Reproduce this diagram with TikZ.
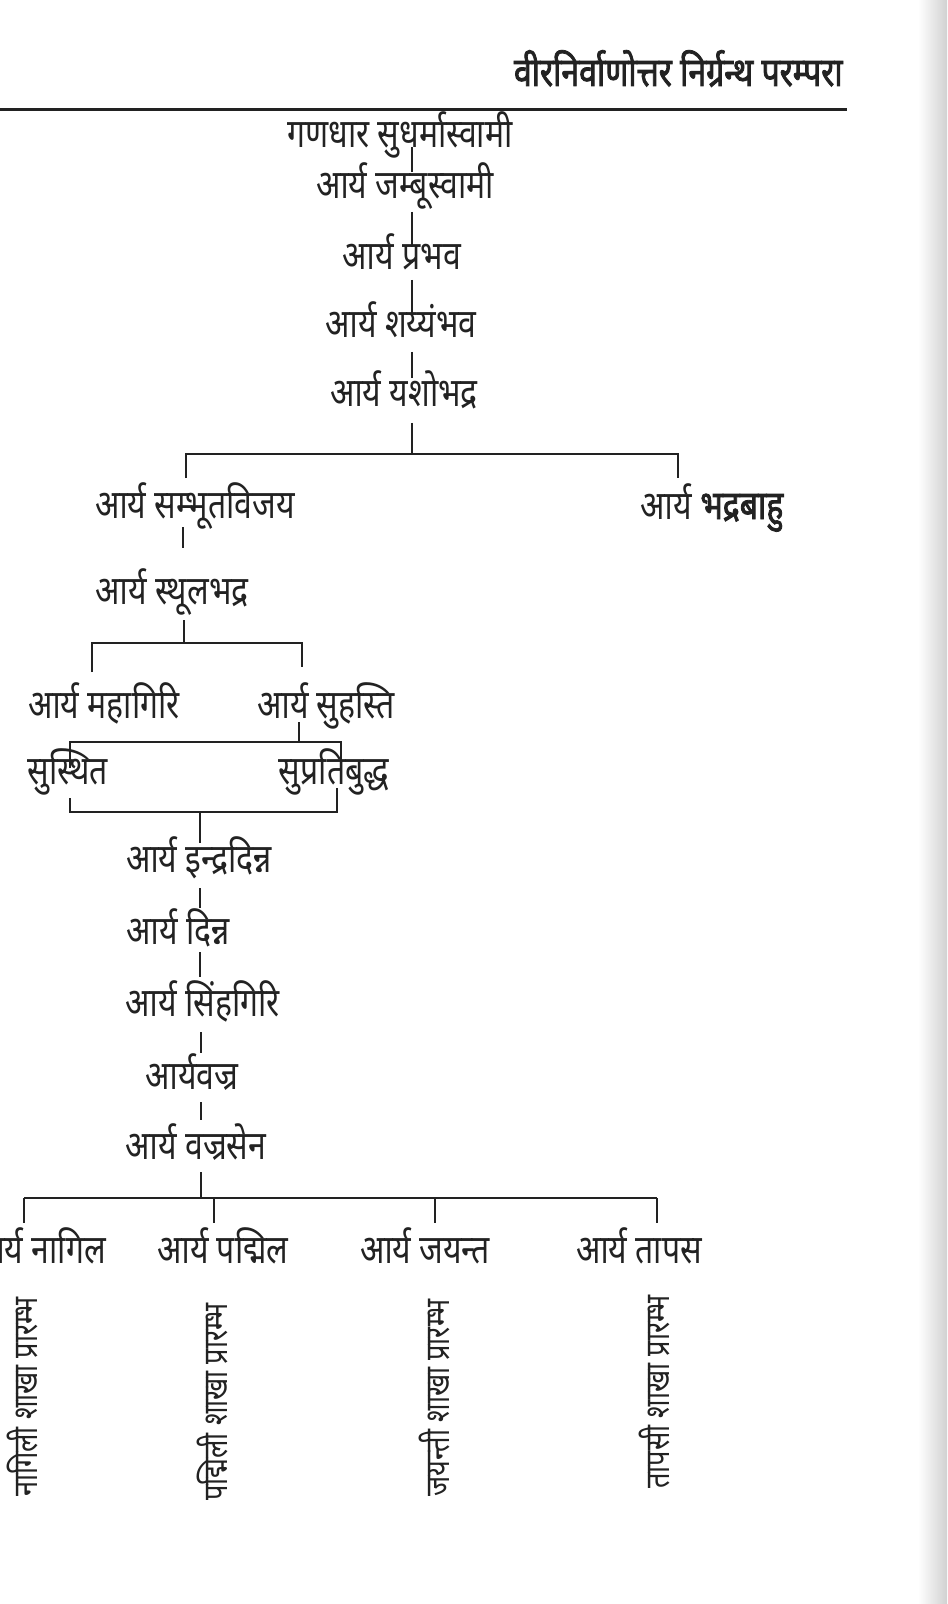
\documentclass[tikz,border=0pt]{standalone}
\usepackage{fontspec}
\newfontfamily\dev[Script=Devanagari,FakeStretch=0.8]{Noto Sans}
\newfontfamily\devb[Script=Devanagari,FakeStretch=0.8,FakeBold=2]{Noto Sans}
\definecolor{ink}{HTML}{222222}
\begin{document}
\begin{tikzpicture}[x=0.5pt,y=-0.5pt,
  nm/.style={font=\dev\fontsize{20}{22}\selectfont, inner sep=0pt, anchor=base, text=ink},
  hd/.style={font=\devb\fontsize{20}{22}\selectfont, inner sep=0pt, anchor=base east, text=ink},
  brn/.style={font=\dev\fontsize{17}{19}\selectfont, inner sep=0pt, rotate=90, text=ink},
  ln/.style={draw=ink, line width=1.1pt},
  rule/.style={draw=ink, line width=1.5pt}]
\useasboundingbox (0,0) rectangle (947,1604);
\fill[white] (0,0) rectangle (947,1604);
\shade[left color=white, right color=black!18] (918,0) rectangle (947,1604);

% header
\node[hd] (head) at (843,86) {वीरनिर्वाणोत्तर निर्ग्रन्थ परम्परा};
\coordinate (rl) at (0,110);
\coordinate (rr) at (847,110);
\draw[rule] (rl) -- (rr);

% names
\node[nm] (gan) at (400,148) {गणधार सुधर्मास्वामी};
\node[nm] (jam) at (405,199) {आर्य जम्बूस्वामी};
\node[nm] (pra) at (402,270) {आर्य प्रभव};
\node[nm] (sha) at (401,338) {आर्य शय्यंभव};
\node[nm] (yas) at (404,407) {आर्य यशोभद्र};
\node[nm] (sam) at (195,518) {आर्य सम्भूतविजय};
\node[nm] (bha) at (712,519) {आर्य {\devb भद्रबाहु}};
\node[nm] (sth) at (172,604) {आर्य स्थूलभद्र};
\node[nm] (mah) at (104,718) {आर्य महागिरि};
\node[nm] (suh) at (326,718) {आर्य सुहस्ति};
\node[nm] (sus) at (68,784) {सुस्थित};
\node[nm] (sup) at (334,784) {सुप्रतिबुद्ध};
\node[nm] (ind) at (199,872) {आर्य इन्द्रदिन्न};
\node[nm] (din) at (178,944) {आर्य दिन्न};
\node[nm] (sin) at (203,1016) {आर्य सिंहगिरि};
\node[nm] (vaj) at (192,1089) {आर्यवज्र};
\node[nm] (vse) at (196,1159) {आर्य वज्रसेन};
\node[nm] (nag) at (39,1263) {आर्य नागिल};
\node[nm] (pad) at (223,1263) {आर्य पद्मिल};
\node[nm] (jay) at (425,1263) {आर्य जयन्त};
\node[nm] (tap) at (639,1263) {आर्य तापस};

% branches
\node[brn] (bnag) at (23,1397) {नागिली शाखा प्रारम्भ};
\node[brn] (bpad) at (213,1402) {पद्मिली शाखा प्रारम्भ};
\node[brn] (bjay) at (434,1398) {जयन्ती शाखा प्रारम्भ};
\node[brn] (btap) at (654,1392) {तापसी शाखा प्रारम्भ};

% connector points
\coordinate (a1) at (412,147);  \coordinate (a2) at (412,172);
\coordinate (b1) at (412,212);  \coordinate (b2) at (412,247);
\coordinate (c1) at (412,280);  \coordinate (c2) at (412,313);
\coordinate (d1) at (412,352);  \coordinate (d2) at (412,378);
\coordinate (e1) at (412,423);  \coordinate (j1) at (412,454);
\coordinate (j1l) at (186,454); \coordinate (j1r) at (678,454);
\coordinate (samt) at (186,478); \coordinate (bhat) at (678,478);
\coordinate (f1) at (183,527);  \coordinate (f2) at (183,548);
\coordinate (g1) at (184,620);  \coordinate (j2) at (184,643);
\coordinate (j2l) at (92,643);  \coordinate (j2r) at (302,643);
\coordinate (maht) at (92,672); \coordinate (suht) at (302,667);
\coordinate (h1) at (299,722);  \coordinate (j3) at (299,742);
\coordinate (j3l) at (70,742);  \coordinate (j3r) at (341,742);
\coordinate (sust) at (70,768); \coordinate (supt) at (341,777);
\coordinate (susb) at (70,798); \coordinate (supb) at (337,788);
\coordinate (j4l) at (70,812);  \coordinate (j4r) at (337,812);
\coordinate (j4) at (200,812);  \coordinate (indt) at (200,843);
\coordinate (k1) at (200,888);  \coordinate (k2) at (200,908);
\coordinate (l1) at (200,952);  \coordinate (l2) at (200,977);
\coordinate (m1) at (201,1032); \coordinate (m2) at (201,1053);
\coordinate (n1) at (201,1102); \coordinate (n2) at (201,1120);
\coordinate (o1) at (201,1172); \coordinate (j5) at (201,1198);
\coordinate (j5a) at (24,1198); \coordinate (j5b) at (214,1198);
\coordinate (j5c) at (435,1198); \coordinate (j5d) at (657,1198);
\coordinate (naga) at (24,1223); \coordinate (pada) at (214,1223);
\coordinate (jaya) at (435,1223); \coordinate (tapa) at (657,1223);

% connectors
\draw[ln] (a1) -- (a2);
\draw[ln] (b1) -- (b2);
\draw[ln] (c1) -- (c2);
\draw[ln] (d1) -- (d2);
\draw[ln] (e1) -- (j1);
\draw[ln] (samt) -- (j1l) -- (j1r) -- (bhat);
\draw[ln] (f1) -- (f2);
\draw[ln] (g1) -- (j2);
\draw[ln] (maht) -- (j2l) -- (j2r) -- (suht);
\draw[ln] (h1) -- (j3);
\draw[ln] (sust) -- (j3l) -- (j3r) -- (supt);
\draw[ln] (susb) -- (j4l) -- (j4r) -- (supb);
\draw[ln] (j4) -- (indt);
\draw[ln] (k1) -- (k2);
\draw[ln] (l1) -- (l2);
\draw[ln] (m1) -- (m2);
\draw[ln] (n1) -- (n2);
\draw[ln] (o1) -- (j5);
\draw[ln] (j5a) -- (j5d);
\draw[ln] (j5a) -- (naga);
\draw[ln] (j5b) -- (pada);
\draw[ln] (j5c) -- (jaya);
\draw[ln] (j5d) -- (tapa);
\end{tikzpicture}
\end{document}
